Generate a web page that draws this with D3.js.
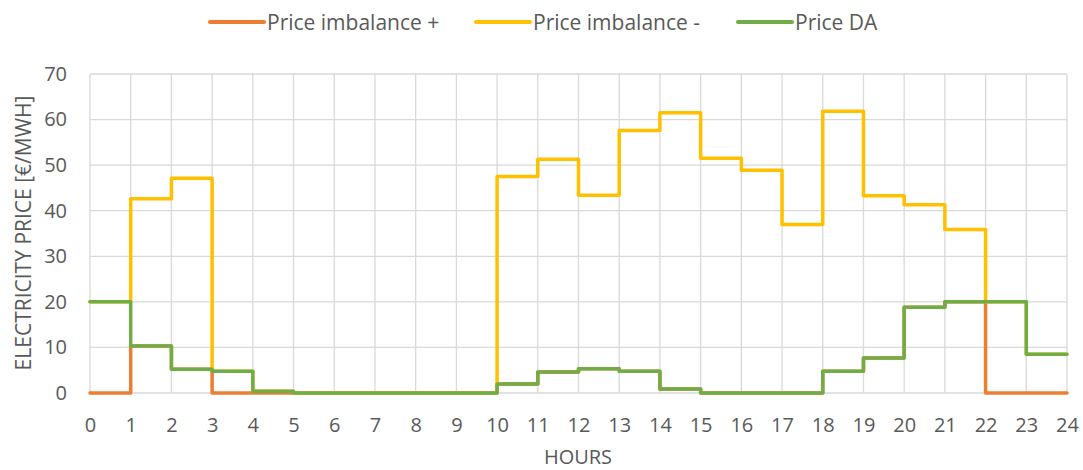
<!DOCTYPE html>
<html><head><meta charset="utf-8">
<script src="https://cdn.jsdelivr.net/npm/d3@7"></script>
<style>body{margin:0;background:#fff}</style>
</head><body>
<svg id="c" width="1083" height="470"></svg>
<script>
const hours = d3.range(0, 25);
const yTicks = [0,10,20,30,40,50,60,70];
const seriesNames = ["Price imbalance +", "Price imbalance -", "Price DA"];
const seriesColors = ["#ED7D31", "#FFC000", "#70AD47"];
// hourly values for hours 0..23
const priceImbPlus = [0, 10.3, 5.2, 0, 0, 0, 0, 0, 0, 0, 2.0, 4.6, 5.3, 4.8, 0.9, 0, 0, 0, 4.8, 7.7, 18.8, 20.0, 0, 0];
const priceImbMinus = [20.0, 42.6, 47.1, 4.8, 0.4, 0, 0, 0, 0, 0, 47.5, 51.3, 43.4, 57.6, 61.5, 51.5, 48.9, 37.0, 61.8, 43.3, 41.3, 35.9, 20.0, 8.5];
const priceDA = [20.0, 10.3, 5.2, 4.8, 0.4, 0, 0, 0, 0, 0, 2.0, 4.6, 5.3, 4.8, 0.9, 0, 0, 0, 4.8, 7.7, 18.8, 20.0, 20.0, 8.5];
const allSeries = [priceImbPlus, priceImbMinus, priceDA];

const svg = d3.select("#c");
const font = "'Open Sans', sans-serif";
const textCol = "#595959";
const x = d3.scaleLinear().domain([0, 24]).range([90, 1067]);
const y = d3.scaleLinear().domain([0, 70]).range([393, 74]);

// grid
const g = svg.append("g");
g.selectAll("line.h").data(yTicks).enter().append("line")
  .attr("x1", x(0)).attr("x2", x(24)).attr("y1", d => y(d)).attr("y2", d => y(d))
  .attr("stroke", "#D9D9D9").attr("stroke-width", 1.3);
g.selectAll("line.v").data(hours).enter().append("line")
  .attr("y1", y(0)).attr("y2", y(70)).attr("x1", d => x(d)).attr("x2", d => x(d))
  .attr("stroke", "#D9D9D9").attr("stroke-width", 1.3);

// axes labels
const yAxis = d3.axisLeft(y).tickValues(yTicks).tickSize(0).tickPadding(23);
const ya = svg.append("g").attr("transform", `translate(${x(0)},0)`).call(yAxis);
ya.select(".domain").remove();
ya.selectAll("text").attr("font-family", font).attr("font-size", 20).attr("fill", textCol);

const xAxis = d3.axisBottom(x).tickValues(hours).tickSize(0).tickPadding(25);
const xa = svg.append("g").attr("transform", `translate(0,${y(0)})`).call(xAxis);
xa.select(".domain").remove();
xa.selectAll("text").attr("font-family", font).attr("font-size", 20).attr("fill", textCol);

// lines
const line = d3.line().x((d, i) => x(i)).y(d => y(d)).curve(d3.curveStepAfter);
allSeries.forEach((s, k) => {
  const pts = s.concat([s[s.length - 1]]);
  svg.append("path").attr("d", line(pts)).attr("fill", "none")
    .attr("stroke", seriesColors[k]).attr("stroke-width", 3.5)
    .attr("stroke-linejoin", "round").attr("stroke-linecap", "round");
});

// titles
svg.append("text").attr("x", 578).attr("y", 464).attr("text-anchor", "middle")
  .attr("font-family", font).attr("font-size", 20).attr("fill", textCol).text("HOURS");
svg.append("text").attr("transform", "translate(31,233) rotate(-90)").attr("text-anchor", "middle")
  .attr("font-family", font).attr("font-size", 21).attr("fill", textCol).text("ELECTRICITY PRICE [€/MWH]");

// legend
const legX = [210, 476, 738];
seriesNames.forEach((n, k) => {
  svg.append("line").attr("x1", legX[k]).attr("x2", legX[k] + 54).attr("y1", 22).attr("y2", 22)
    .attr("stroke", seriesColors[k]).attr("stroke-width", 4).attr("stroke-linecap", "round");
  svg.append("text").attr("x", legX[k] + 57).attr("y", 30).attr("font-family", font)
    .attr("font-size", 21).attr("fill", textCol).text(n);
});
</script>
</body></html>
